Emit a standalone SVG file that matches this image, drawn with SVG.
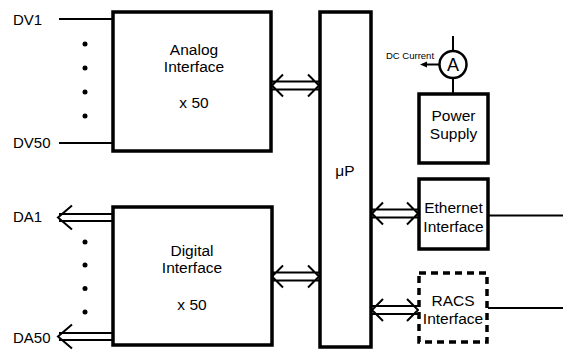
<svg xmlns="http://www.w3.org/2000/svg" width="563" height="351" viewBox="0 0 563 351">
<style>
.box{fill:#fff;stroke:#000;stroke-width:3.5}
.dash{fill:#fff;stroke:#000;stroke-width:3.5;stroke-dasharray:7 5}
.ln{fill:none;stroke:#000;stroke-width:2}
.t{font-family:"Liberation Sans",Arial,sans-serif;font-size:15.5px;fill:#000;text-anchor:middle}
.l{font-family:"Liberation Sans",Arial,sans-serif;font-size:15px;fill:#000}
.s{font-family:"Liberation Sans",Arial,sans-serif;font-size:9.5px;fill:#000}
</style>
<rect width="563" height="351" fill="#fff"/>
<g id="connectors">
  <line class="ln" x1="59" y1="19" x2="112" y2="19"/>
  <line class="ln" x1="59" y1="143" x2="112" y2="143"/>
  <path class="ln" d="M59,214 H112 M59,221 H112 M72,205.5 L58,217.5 L72,229.5"/>
  <path class="ln" d="M59,333 H112 M59,340 H112 M72,324.5 L58,336.5 L72,348.5"/>
  <path class="ln" d="M272,81.5 H319 M272,89.5 H319 M283,74.5 L272,85.5 L283,96.5 M308,74.5 L319,85.5 L308,96.5"/>
  <path class="ln" d="M272,272.5 H319 M272,280.5 H319 M283,265.5 L272,276.5 L283,287.5 M308,265.5 L319,276.5 L308,287.5"/>
  <path class="ln" d="M372,209.5 H418 M372,217.5 H418 M383,202.5 L372,213.5 L383,224.5 M407,202.5 L418,213.5 L407,224.5"/>
  <path class="ln" d="M372,306 H418 M372,314 H418 M383,299 L372,310 L383,321 M407,299 L418,310 L407,321"/>
  <line class="ln" x1="489" y1="215.5" x2="563" y2="215.5"/>
  <line class="ln" x1="488" y1="308" x2="563" y2="308"/>
  <line class="ln" x1="453" y1="36" x2="453" y2="50"/>
  <line class="ln" x1="453" y1="78" x2="453" y2="93"/>
  <line class="ln" x1="439" y1="64.5" x2="425" y2="64.5"/>
  <path d="M420,64.5 L427,61.5 L427,67.5 Z" fill="#000"/>
</g>
<g id="dots" fill="#000">
  <circle cx="85" cy="44" r="2.5"/>
  <circle cx="85" cy="68" r="2.5"/>
  <circle cx="85" cy="92" r="2.5"/>
  <circle cx="85" cy="116" r="2.5"/>
  <circle cx="85" cy="242" r="2.5"/>
  <circle cx="85" cy="265" r="2.5"/>
  <circle cx="85" cy="288.5" r="2.5"/>
  <circle cx="85" cy="312" r="2.5"/>
</g>
<g id="labels">
  <text class="l" x="13" y="25">DV1</text>
  <text class="l" x="13" y="148">DV50</text>
  <text class="l" x="13" y="222">DA1</text>
  <text class="l" x="13" y="343">DA50</text>
  <text class="s" x="386" y="58.5">DC Current</text>
</g>
<g id="analog">
  <rect class="box" x="113" y="12" width="158" height="139"/>
  <text class="t" x="194" y="55">Analog</text>
  <text class="t" x="194" y="72">Interface</text>
  <text class="t" x="194" y="108">x 50</text>
</g>
<g id="digital">
  <rect class="box" x="113" y="207" width="159" height="138"/>
  <text class="t" x="192" y="256">Digital</text>
  <text class="t" x="192" y="273">Interface</text>
  <text class="t" x="192" y="310">x 50</text>
</g>
<g id="up">
  <rect class="box" x="320" y="12" width="51" height="335"/>
  <text class="t" x="345" y="176">μP</text>
</g>
<g id="ammeter">
  <circle cx="453" cy="64.5" r="13.5" fill="#fff" stroke="#000" stroke-width="2.5"/>
  <text class="t" x="453" y="71" style="font-size:18px">A</text>
</g>
<g id="power">
  <rect class="box" x="419" y="94" width="69" height="69"/>
  <text class="t" x="453.5" y="121">Power</text>
  <text class="t" x="453.5" y="138.5">Supply</text>
</g>
<g id="ethernet">
  <rect class="box" x="419" y="179" width="69" height="70"/>
  <text class="t" x="453.5" y="212.5">Ethernet</text>
  <text class="t" x="453.5" y="232">Interface</text>
</g>
<g id="racs">
  <rect class="dash" x="419" y="273" width="68" height="69"/>
  <text class="t" x="453" y="306">RACS</text>
  <text class="t" x="453" y="323.5">Interface</text>
</g>
</svg>
